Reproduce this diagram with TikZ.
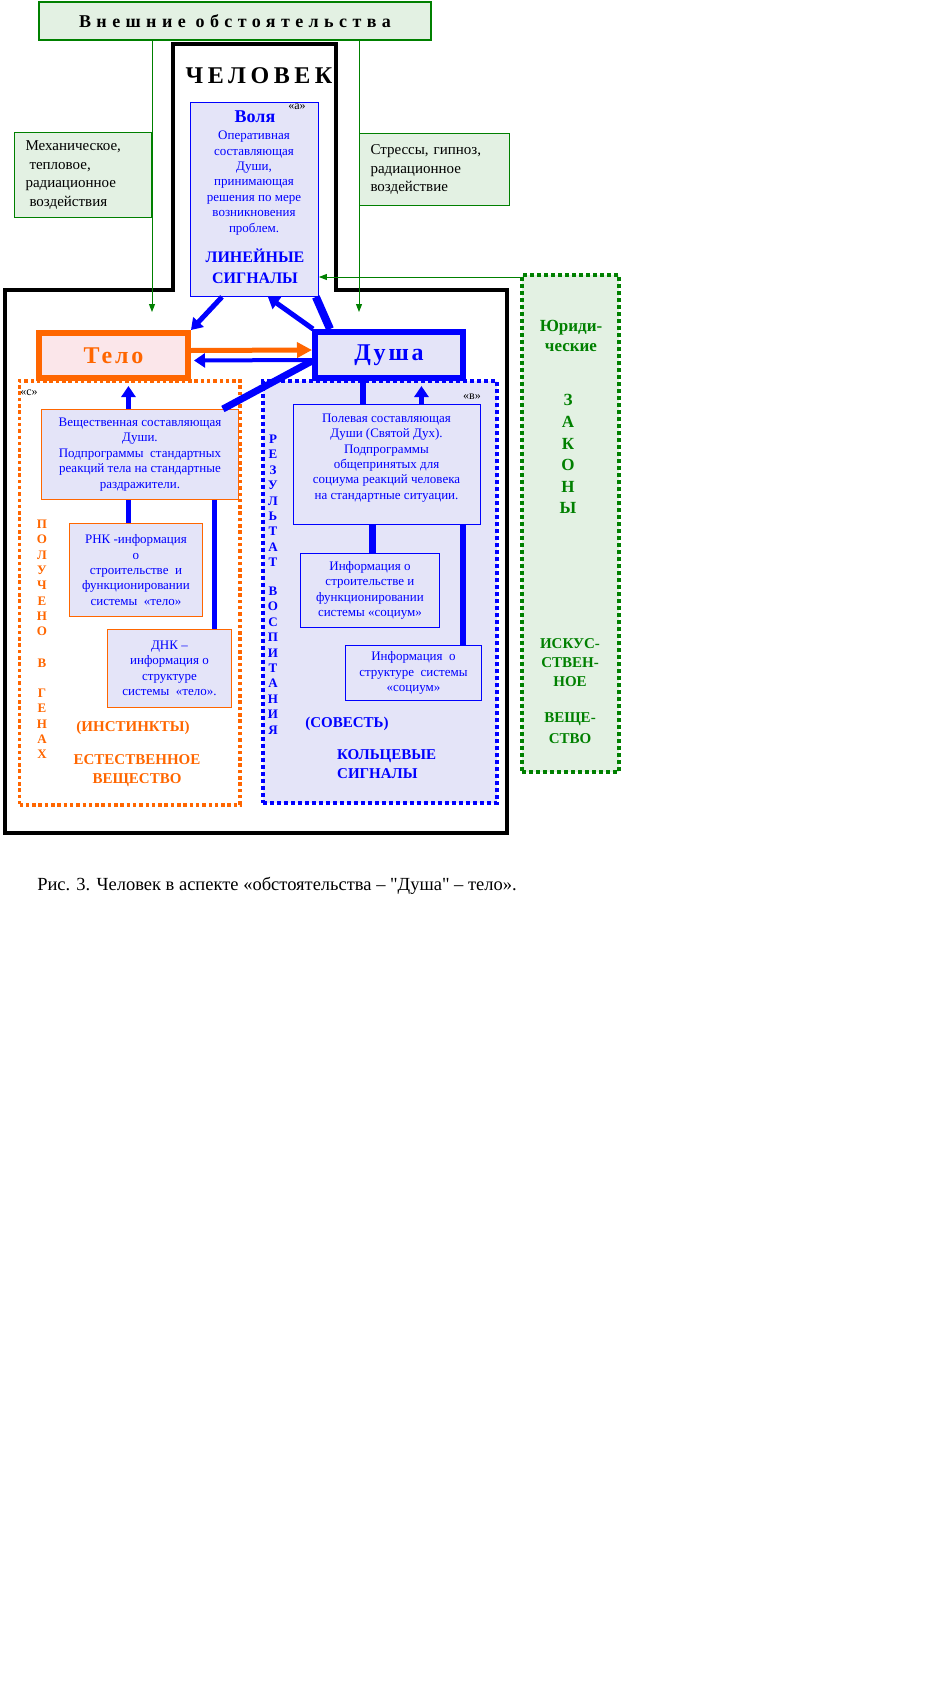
\documentclass[tikz,border=0pt]{standalone}
\usepackage{fontspec}
\setmainfont{Liberation Serif}
\usetikzlibrary{calc,arrows.meta}
\definecolor{grn}{HTML}{008000}
\definecolor{grnfill}{HTML}{E3F1E3}
\definecolor{lav}{HTML}{E4E4F8}
\definecolor{org}{HTML}{FF6600}
\definecolor{telofill}{HTML}{FBE6EA}
\definecolor{blu}{HTML}{0000FF}
\newcommand{\boxfont}{\fontsize{13}{15.4}\selectfont}
\newcommand{\sidefont}{\fontsize{15}{18.7}\selectfont}
\newcommand{\labfont}{\fontsize{15}{19}\selectfont\bfseries}
\newcommand{\vertfont}{\fontsize{13}{15.33}\selectfont\bfseries}
\newcommand{\markfont}{\fontsize{12}{13}\selectfont}
\tikzset{
  manline/.style={line width=4pt, draw=black},
  gbox/.style={draw=grn, fill=grnfill, line width=1pt, inner sep=0pt},
  sidebox/.style={gbox, align=left, inner xsep=11pt, font=\sidefont},
  bbox/.style={draw=blu, fill=lav, line width=0.9pt, inner sep=0pt, align=center, font=\boxfont, text=blu},
  obox/.style={bbox, draw=org},
  bigbox/.style={line width=6pt, inner sep=0pt, font=\fontsize{24}{26}\selectfont\bfseries\addfontfeatures{LetterSpace=12}},
  odot/.style={draw=org, line width=3.5pt, dash pattern=on 3.5pt off 2.8pt},
  bdot/.style={draw=blu, fill=lav, line width=4pt, dash pattern=on 4pt off 3pt},
  gdot/.style={draw=grn, fill=grnfill, line width=4pt, dash pattern=on 4pt off 3pt},
  bline/.style={draw=blu, line width=5pt},
  barrow/.style={bline, -{Triangle[length=11pt,width=14pt]}},
  oarrow/.style={draw=org, line width=5pt, -{Triangle[length=15pt,width=15pt]}},
  gline/.style={draw=grn, line width=1pt, -{Triangle[length=8pt,width=6pt]}},
}

\begin{document}
\begin{tikzpicture}[x=1pt, y=-1pt]
  \useasboundingbox (0,0) rectangle (945,1683);
  % human: head and body
  \draw[manline] (175,290) -- (5,290) -- (5,833) -- (507,833) -- (507,290) -- (336,290) -- (336,44) -- (173,44) -- (173,290);
  \node[gbox, line width=2pt, anchor=north west, minimum width=392, minimum height=38,
    font=\fontsize{18}{20}\selectfont\bfseries\addfontfeatures{LetterSpace=30}] (vnesh) at (38,1) {Внешние обстоятельства};
  \node[font=\fontsize{24}{26}\selectfont\bfseries\addfontfeatures{LetterSpace=19}] (chel) at (259,76) {ЧЕЛОВЕК};
  \node[sidebox, anchor=north west, minimum width=137, minimum height=85, text width=115] (mech) at (14,132)
    {Механическое,\\\hspace*{4pt}тепловое,\\радиационное\\\hspace*{4pt}воздействия};
  \node[sidebox, anchor=north west, minimum width=150, minimum height=72, text width=128] (stress) at (359,133)
    {Стрессы, гипноз,\\радиационное\\воздействие};
  % will (a)
  \node[bbox, anchor=north west, minimum width=128, minimum height=194] (volya) at (190,102) {};
  \node[font=\markfont] (volya-a) at (297,107) {«а»};
  \node[font=\fontsize{18}{20}\selectfont\bfseries, text=blu] (volya-t) at (255,117) {Воля};
  \node[font=\boxfont, text=blu, align=center] (volya-d) at (254,183)
    {Оперативная\\составляющая\\Души,\\принимающая\\решения по мере\\возникновения\\проблем.};
  \node[font=\fontsize{16}{21}\selectfont\bfseries, text=blu, align=center] (volya-s) at (255,266) {ЛИНЕЙНЫЕ\\СИГНАЛЫ};
  % laws
  \node[gdot, anchor=north west, minimum width=97, minimum height=497] (zakony) at (520,273) {};
  \node[font=\fontsize{17}{20}\selectfont\bfseries, text=grn, align=center, anchor=north, inner sep=0pt] (zakony-u) at (571,320) {Юриди-\\ческие};
  \node[font=\fontsize{17}{21.6}\selectfont\bfseries, text=grn, align=center, anchor=north, inner sep=0pt] (zakony-z) at (568,394.4) {З\\А\\К\\О\\Н\\Ы};
  \node[font=\fontsize{15}{19}\selectfont\bfseries, text=grn, align=center, anchor=north, inner sep=0pt] (zakony-i) at (570,638) {ИСКУС-\\СТВЕН-\\НОЕ};
  \node[font=\fontsize{15}{21}\selectfont\bfseries, text=grn, align=center, anchor=north, inner sep=0pt] (zakony-v) at (570,712) {ВЕЩЕ-\\СТВО};
  % zones (c) and (b)
  \node[odot, anchor=north west, minimum width=220.5, minimum height=424] (genes) at (17.75,379) {};
  \node[bdot, anchor=north west, minimum width=234, minimum height=422] (vosp) at (261,379) {};
  \node[font=\markfont] (genes-c) at (29,393) {«с»};
  \node[font=\markfont] (vosp-b) at (472,397) {«в»};
  % body and soul
  \node[bigbox, draw=org, fill=telofill, text=org, anchor=north west, minimum width=149, minimum height=45] (telo) at (36,330) {Тело};
  \node[bigbox, draw=blu, fill=lav, text=blu, anchor=north west, minimum width=148, minimum height=46] (dusha) at (312,329) {Душа};
  % material part
  \node[obox, anchor=north west, minimum width=197, minimum height=90] (veshch) at (41,409)
    {Вещественная составляющая\\Души.\\Подпрограммы \ стандартных\\реакций тела на стандартные\\раздражители.};
  \node[obox, anchor=north west, minimum width=133, minimum height=93] (rnk) at (69,523)
    {РНК -информация\\о\\строительстве \ и\\функционировании\\системы \ «тело»};
  \node[obox, anchor=north west, minimum width=124, minimum height=78] (dnk) at (107,629)
    {ДНК –\\информация о\\структуре\\системы \ «тело».};
  % field part
  \node[bbox, anchor=north west, minimum width=187, minimum height=120] (polevaya) at (293,404) {};
  \node[font=\boxfont, text=blu, align=center] (polevaya-d) at (386.5,458)
    {Полевая составляющая\\Души (Святой Дух).\\Подпрограммы\\общепринятых для\\социума реакций человека\\на стандартные ситуации.};
  \node[bbox, anchor=north west, minimum width=139, minimum height=74] (info1) at (300,553)
    {Информация о\\строительстве и\\функционировании\\системы «социум»};
  \node[bbox, anchor=north west, minimum width=136, minimum height=55] (info2) at (345,645)
    {Информация \ о\\структуре \ системы\\«социум»};
  % vertical words
  \node[font=\vertfont, text=org, align=center, anchor=north, inner sep=0pt] (genes-v) at (42,519.7)
    {П\\О\\Л\\У\\Ч\\Е\\Н\\О\\[16.4pt]В\\[14.7pt]Г\\Е\\Н\\А\\Х};
  \node[font=\fontsize{13}{15.4}\selectfont\bfseries, text=blu, align=center, anchor=north, inner sep=0pt] (vosp-v) at (273,434.7)
    {Р\\Е\\З\\У\\Л\\Ь\\Т\\А\\Т\\[13.5pt]В\\О\\С\\П\\И\\Т\\А\\Н\\И\\Я};
  \node[font=\labfont, text=org] (genes-i) at (133,728) {(ИНСТИНКТЫ)};
  \node[font=\labfont, text=org, align=center] (genes-e) at (137,771) {ЕСТЕСТВЕННОЕ\\ВЕЩЕСТВО};
  \node[font=\labfont, text=blu] (vosp-s) at (347,724) {(СОВЕСТЬ)};
  \node[font=\labfont, text=blu, align=left, anchor=west, inner sep=0pt] (vosp-k) at (337,764) {КОЛЬЦЕВЫЕ\\СИГНАЛЫ};
  % outside influences
  \draw[gline, shorten >=18pt] (vnesh.south -| mech.east) -- (mech.east |- telo.north);
  \draw[gline, shorten >=17pt] (vnesh.south -| stress.west) -- (stress.west |- dusha.north);
  \coordinate (zin) at ([yshift=-4pt]zakony.north west);
  \draw[gline] (zin) -- (volya.east |- zin);
  % signals
  \draw[barrow] ([xshift=32pt]volya.south west) -- (telo.north east);
  \draw[barrow] ([xshift=1pt]dusha.north west) -- ([xshift=-51pt]volya.south east);
  \draw[bline, line width=8pt] ([xshift=18pt]dusha.north west) -- ([xshift=-3pt]volya.south east);
  \draw[oarrow] ([yshift=5pt]telo.east) -- ([yshift=5pt]dusha.west);
  \draw[barrow, line width=4pt, shorten >=3pt] ([yshift=-5pt]dusha.west) -- ([yshift=-5pt]telo.east);
  \draw[bline, line width=7pt] ([yshift=-6pt]dusha.west) -- ([xshift=-16pt]veshch.north east);
  \draw[barrow, shorten >=5pt] ([xshift=-11.5pt]veshch.north) -- ([xshift=-11.5pt]veshch.north |- telo.south);
  \draw[bline, line width=6pt] ([xshift=-23.5pt]polevaya.north) -- ([xshift=-23.5pt]polevaya.north |- dusha.south);
  \draw[barrow, shorten >=5pt] ([xshift=34.5pt]polevaya.north) -- ([xshift=34.5pt]polevaya.north |- dusha.south);
  \draw[bline] ([xshift=-11.5pt]veshch.south) -- ([xshift=-11.5pt]veshch.south |- rnk.north);
  \draw[bline] ([xshift=74.5pt]veshch.south) -- ([xshift=74.5pt]veshch.south |- dnk.north);
  \draw[bline, line width=7pt] ([xshift=-14.5pt]polevaya.south) -- ([xshift=-14.5pt]polevaya.south |- info1.north);
  \draw[bline, line width=6pt] ([xshift=76.5pt]polevaya.south) -- ([xshift=76.5pt]polevaya.south |- info2.north);
  % caption
  \node[font=\fontsize{18.5}{21}\selectfont\addfontfeatures{Ligatures=TeXOff}] (caption) at (277,886) {Рис. 3. Человек в аспекте «обстоятельства – "Душа" – тело».};
\end{tikzpicture}
\end{document}
